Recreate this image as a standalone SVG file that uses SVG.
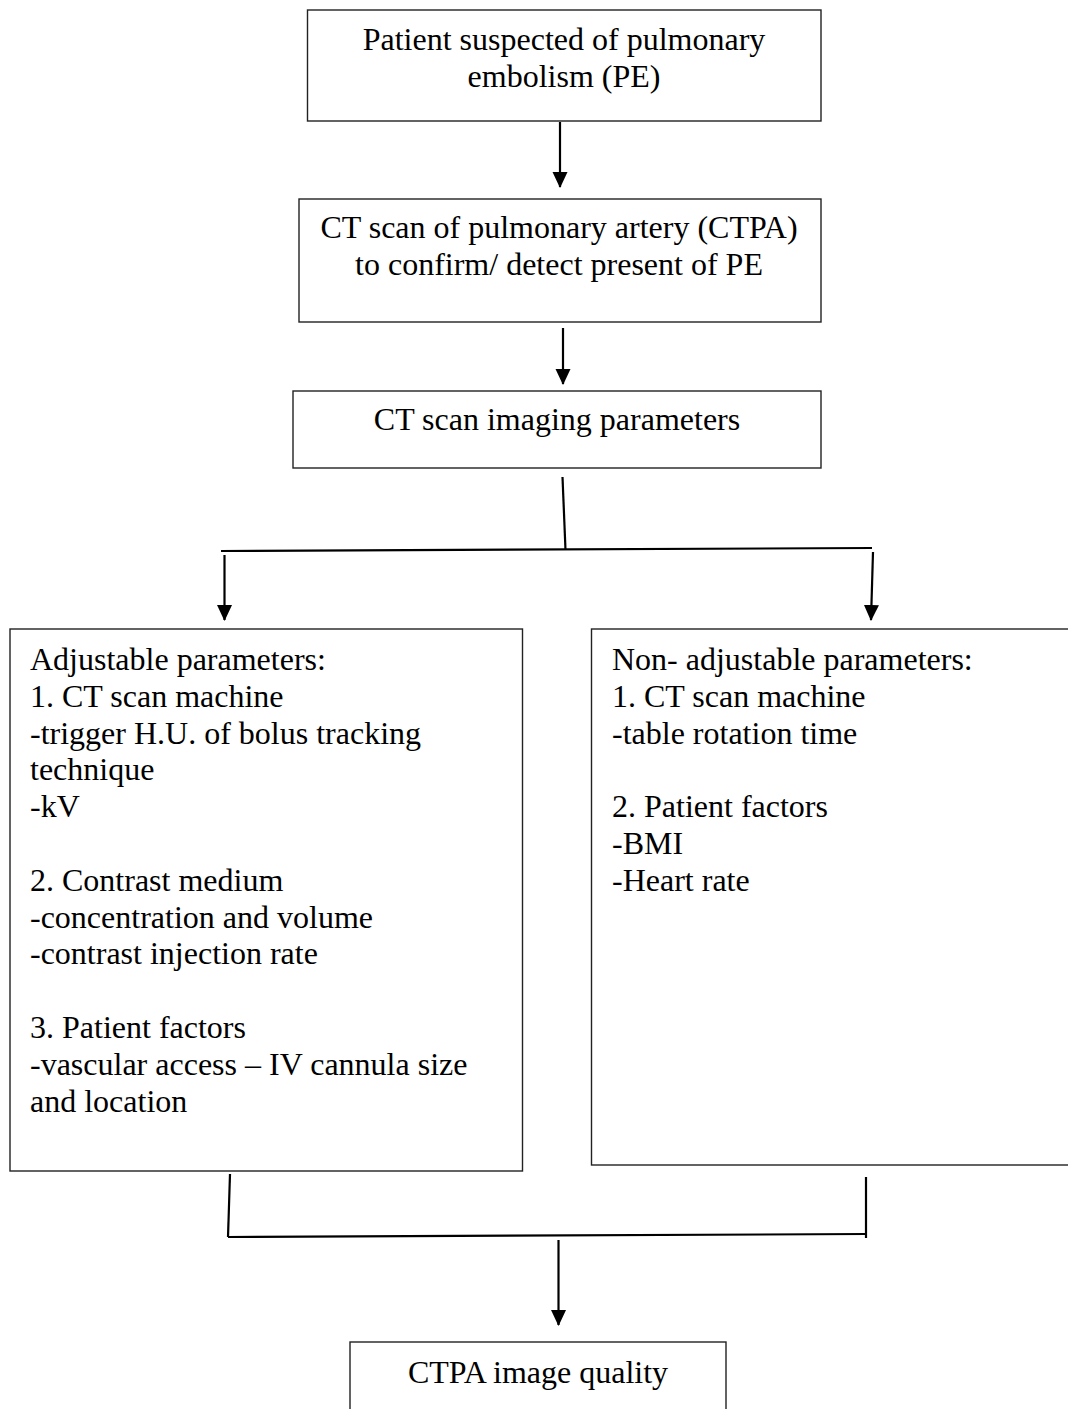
<svg xmlns="http://www.w3.org/2000/svg" width="1068" height="1409" viewBox="0 0 1068 1409">
<defs>
<style>
.box{fill:#fff;stroke:#222;stroke-width:1.4}
.t{font-family:"Liberation Serif","Times New Roman",serif;font-size:32px;fill:#000}
.c{text-anchor:middle}
.ln{stroke:#000;stroke-width:2.2;fill:none;stroke-linecap:butt}
</style>
<marker id="ah" markerUnits="userSpaceOnUse" markerWidth="16" markerHeight="17" refX="15" refY="7.5" orient="auto">
<path d="M0,0 L16,7.5 L0,15 Z" fill="#000"/>
</marker>
</defs>
<rect width="1068" height="1409" fill="#fff"/>
<g id="connectors">
<line class="ln" x1="560" y1="122" x2="560" y2="187" marker-end="url(#ah)"/>
<line class="ln" x1="563" y1="328" x2="563" y2="384" marker-end="url(#ah)"/>
<line class="ln" x1="562.5" y1="477" x2="565.5" y2="550"/>
<line class="ln" x1="221" y1="551" x2="872" y2="548"/>
<line class="ln" x1="224.5" y1="555" x2="224.5" y2="620" marker-end="url(#ah)"/>
<line class="ln" x1="873" y1="552" x2="871" y2="620" marker-end="url(#ah)"/>
<line class="ln" x1="230" y1="1174" x2="228" y2="1237"/>
<line class="ln" x1="228" y1="1237" x2="867" y2="1234"/>
<line class="ln" x1="866" y1="1177" x2="866" y2="1238"/>
<line class="ln" x1="558.5" y1="1240" x2="558.5" y2="1325" marker-end="url(#ah)"/>
</g>
<g id="n1">
<rect class="box" x="307.5" y="10" width="513.5" height="111"/>
<text class="t c" x="564" y="50">Patient suspected of pulmonary</text>
<text class="t c" x="564" y="87">embolism (PE)</text>
</g>
<g id="n2">
<rect class="box" x="299" y="199" width="522" height="123"/>
<text class="t c" x="559" y="238">CT scan of pulmonary artery (CTPA)</text>
<text class="t c" x="559" y="275">to confirm/ detect present of PE</text>
</g>
<g id="n3">
<rect class="box" x="293" y="391" width="528" height="77"/>
<text class="t c" x="557" y="430">CT scan imaging parameters</text>
</g>
<g id="n4">
<rect class="box" x="10" y="629" width="512.5" height="542"/>
<text class="t" x="30" y="670">Adjustable parameters:</text>
<text class="t" x="30" y="706.8">1. CT scan machine</text>
<text class="t" x="30" y="743.6">-trigger H.U. of bolus tracking</text>
<text class="t" x="30" y="780.4">technique</text>
<text class="t" x="30" y="817.2">-kV</text>
<text class="t" x="30" y="890.8">2. Contrast medium</text>
<text class="t" x="30" y="927.6">-concentration and volume</text>
<text class="t" x="30" y="964.4">-contrast injection rate</text>
<text class="t" x="30" y="1038">3. Patient factors</text>
<text class="t" x="30" y="1074.8">-vascular access – IV cannula size</text>
<text class="t" x="30" y="1111.6">and location</text>
</g>
<g id="n5">
<rect class="box" x="591.5" y="629" width="500" height="536"/>
<text class="t" x="612" y="670">Non- adjustable parameters:</text>
<text class="t" x="612" y="706.8">1. CT scan machine</text>
<text class="t" x="612" y="743.6">-table rotation time</text>
<text class="t" x="612" y="817.2">2. Patient factors</text>
<text class="t" x="612" y="854">-BMI</text>
<text class="t" x="612" y="890.8">-Heart rate</text>
</g>
<g id="n6">
<rect class="box" x="350" y="1342" width="376" height="100"/>
<text class="t c" x="538" y="1383">CTPA image quality</text>
</g>
</svg>
